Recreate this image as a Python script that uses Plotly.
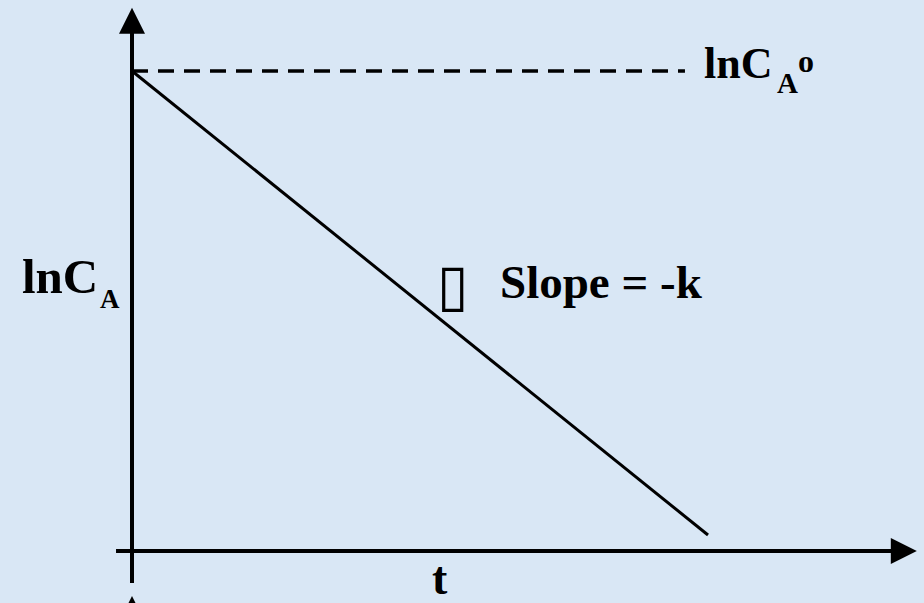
import plotly.graph_objects as go

# First-order kinetics: ln C_A falls linearly with time
t_values = [0.0, 12.0]
lnCA_values = [6.0, 0.2]
lnCA0 = lnCA_values[0]

# Axis extents (in the chart's own units)
T_AXIS = [-0.333, 16.35]       # horizontal axis, arrow tip at the end
LN_AXIS = [-0.40, 6.79]        # vertical axis, arrow tip at the end
DASH_END = 11.52               # reference line for ln C_A0 stops here

W, H = 924, 603
X_RANGE = [-2.75, 16.5]
Y_RANGE = [-0.65, 6.8875]

BG = "#d9e7f5"
INK = "black"
SERIF = "Liberation Serif, Times New Roman, serif"

fig = go.Figure()

# ln C_A versus t
fig.add_trace(go.Scatter(x=t_values, y=lnCA_values, mode="lines",
                         line=dict(color=INK, width=3), hoverinfo="skip"))

# dashed level of ln C_A0
fig.add_trace(go.Scatter(x=[0, DASH_END], y=[lnCA0, lnCA0], mode="lines",
                         line=dict(color=INK, width=3.5, dash="16px,10px"),
                         hoverinfo="skip"))

# axes
fig.add_trace(go.Scatter(x=[0, 0], y=[LN_AXIS[0], LN_AXIS[1] - 0.3], mode="lines",
                         line=dict(color=INK, width=4), hoverinfo="skip"))
fig.add_trace(go.Scatter(x=[T_AXIS[0], T_AXIS[1] - 0.5], y=[0, 0], mode="lines",
                         line=dict(color=INK, width=4), hoverinfo="skip"))

# arrow heads (tip sits on the point)
fig.add_trace(go.Scatter(x=[0, 0], y=[LN_AXIS[1], -0.5625], mode="markers",
                         marker=dict(symbol="arrow-up", size=26, color=INK,
                                     line=dict(width=0)),
                         cliponaxis=False, hoverinfo="skip"))
fig.add_trace(go.Scatter(x=[T_AXIS[1]], y=[0], mode="markers",
                         marker=dict(symbol="arrow-right", size=26, color=INK,
                                     line=dict(width=0)),
                         cliponaxis=False, hoverinfo="skip"))


def px(x, y):
    return x / W, 1 - y / H


def label(text, x, y, size, xanchor="left", family=SERIF):
    px_x, px_y = px(x, y)
    fig.add_annotation(x=px_x, y=px_y, xref="paper", yref="paper",
                       text=text, showarrow=False, xanchor=xanchor,
                       yanchor="middle",
                       font=dict(family=family, size=size, color=INK))


label("<b>lnC</b>", 20, 276, 49)
label("<b>A</b>", 98, 299, 27)
label("<b>lnC</b>", 702, 64, 44)
label("<b>A</b>", 775, 83, 29)
label("<b>o</b>", 796, 61, 32)
label("▯", 453, 285, 58, xanchor="center", family="DejaVu Sans")
label("<b>Slope = -k</b>", 498, 282, 47)
label("<b>t</b>", 440, 578, 46, xanchor="center")

fig.update_layout(
    width=W, height=H,
    margin=dict(l=0, r=0, t=0, b=0),
    paper_bgcolor=BG, plot_bgcolor=BG,
    showlegend=False,
    xaxis=dict(range=X_RANGE, visible=False, fixedrange=True),
    yaxis=dict(range=Y_RANGE, visible=False, fixedrange=True),
)

fig.write_html("out.html")
